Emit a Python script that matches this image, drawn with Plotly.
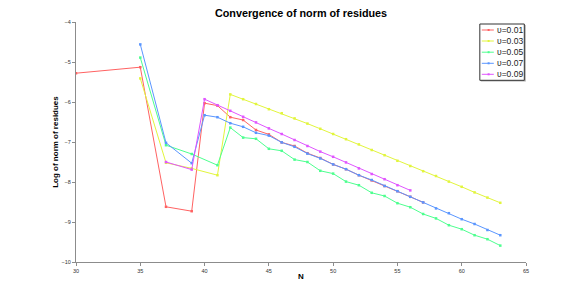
import plotly.graph_objects as go

labels = ["υ=0.01", "υ=0.03", "υ=0.05", "υ=0.07", "υ=0.09"]
colors = ["#ff6262", "#e2f53c", "#4dff8f", "#5a96ff", "#e055ff"]

n_001 = [30, 35, 37, 39, 40, 41, 42, 43, 44, 45, 46, 47, 48, 49, 50, 51, 52, 53, 54, 55, 56, 57]
v_001 = [-5.28, -5.13, -8.62, -8.73, -6.03, -6.09, -6.38, -6.45, -6.70, -6.81, -7.01, -7.10,
         -7.28, -7.40, -7.56, -7.68, -7.83, -7.96, -8.10, -8.23, -8.37, -8.51]

n_003 = [35, 37, 39, 41, 42, 43, 44, 45, 46, 47, 48, 49, 50, 51, 52, 53, 54, 55, 56, 57, 58,
         59, 60, 61, 62, 63]
v_003 = [-5.41, -7.52, -7.66, -7.83, -5.81, -5.93, -6.05, -6.18, -6.28, -6.41, -6.54, -6.67,
         -6.80, -6.93, -7.06, -7.20, -7.33, -7.47, -7.60, -7.73, -7.85, -7.99, -8.12, -8.26,
         -8.39, -8.52]

n_005 = [35, 37, 39, 41, 42, 43, 44, 45, 46, 47, 48, 49, 50, 51, 52, 53, 54, 55, 56, 57, 58,
         59, 60, 61, 62, 63]
v_005 = [-4.89, -7.08, -7.30, -7.58, -6.64, -6.89, -6.92, -7.17, -7.22, -7.44, -7.50, -7.72,
         -7.79, -7.99, -8.08, -8.27, -8.35, -8.53, -8.63, -8.80, -8.91, -9.08, -9.18, -9.33,
         -9.43, -9.59]

n_007 = [35, 37, 39, 40, 41, 42, 43, 44, 45, 46, 47, 48, 49, 50, 51, 52, 53, 54, 55, 56, 57,
         58, 59, 60, 61, 62, 63]
v_007 = [-4.56, -7.02, -7.53, -6.33, -6.38, -6.53, -6.62, -6.77, -6.84, -7.01, -7.12, -7.29,
         -7.41, -7.56, -7.68, -7.83, -7.95, -8.10, -8.23, -8.37, -8.51, -8.66, -8.78, -8.93,
         -9.05, -9.20, -9.33]

n_009 = [37, 39, 40, 41, 42, 43, 44, 45, 46, 47, 48, 49, 50, 51, 52, 53, 54, 55, 56]
v_009 = [-7.50, -7.69, -5.93, -6.08, -6.22, -6.37, -6.51, -6.66, -6.80, -6.95, -7.10, -7.24,
         -7.37, -7.51, -7.66, -7.80, -7.93, -8.08, -8.21]

series_n = [n_001, n_003, n_005, n_007, n_009]
series_v = [v_001, v_003, v_005, v_007, v_009]

x_ticks = [30, 35, 40, 45, 50, 55, 60, 65]
y_ticks = [-10, -9, -8, -7, -6, -5, -4]

FONT = "Liberation Sans, Arial, sans-serif"
W, H = 581, 294
OFF = 8  # page body margin offset between figure and screenshot
# plot area in screenshot pixels
SX0, SX1, SY0, SY1 = 75.5, 525.7, 22.0, 262.0
ML = SX0 - OFF
MR = W - (SX1 - OFF)
MT = SY0 - OFF
MB = H - (SY1 - OFF)
PW, PH = SX1 - SX0, SY1 - SY0


def px_x(sx):
    return (sx - SX0) / PW


def px_y(sy):
    return (SY1 - sy) / PH


fig = go.Figure()
for lab, col, xs, ys in zip(labels, colors, series_n, series_v):
    fig.add_trace(go.Scatter(
        x=xs, y=ys, name=lab, mode="lines+markers",
        line=dict(color=col, width=1),
        marker=dict(color=col, size=2.5, symbol="square"),
        showlegend=False,
    ))

axis_common = dict(
    showgrid=False, zeroline=False, showline=True, linecolor="#8c8c8c", linewidth=1,
    ticks="outside", ticklen=3, tickcolor="#8c8c8c", tickwidth=1,
    tickfont=dict(family=FONT, size=5.5, color="#333"),
    mirror=False, automargin=False,
)

# compact legend drawn inside the axes area, like the original
shapes = [
    dict(type="rect", xref="paper", yref="paper",
         x0=px_x(480.5), x1=px_x(525.5), y0=px_y(81.5), y1=px_y(25),
         fillcolor="#b0b0b0", line=dict(width=0), layer="above"),
    dict(type="rect", xref="paper", yref="paper",
         x0=px_x(479.5), x1=px_x(524), y0=px_y(80.3), y1=px_y(24),
         fillcolor="white", line=dict(color="#333", width=1), layer="above"),
]
annotations = []
row_y = [30, 41, 52.2, 63.3, 74.3]
for lab, col, ry in zip(labels, colors, row_y):
    shapes.append(dict(type="line", xref="paper", yref="paper",
                       x0=px_x(481.5), x1=px_x(493.5), y0=px_y(ry), y1=px_y(ry),
                       line=dict(color=col, width=1), layer="above"))
    shapes.append(dict(type="rect", xref="paper", yref="paper",
                       x0=px_x(487.3), x1=px_x(489.3), y0=px_y(ry + 1), y1=px_y(ry - 1),
                       fillcolor=col, line=dict(width=0), layer="above"))
    annotations.append(dict(text=lab, xref="paper", yref="paper", x=px_x(494.5), y=px_y(ry),
                            xanchor="left", yanchor="middle", showarrow=False,
                            font=dict(family=FONT, size=8.5, color="#222")))

fig.update_layout(
    width=W, height=H,
    margin=dict(l=ML, r=MR, t=MT, b=MB, pad=0),
    paper_bgcolor="white", plot_bgcolor="white",
    title=dict(text="<b>Convergence of norm of residues</b>", xref="paper", x=0.5, xanchor="center",
               yref="container", y=1 - (13 - OFF) / H, yanchor="middle",
               font=dict(family=FONT, size=10.8, color="black")),
    xaxis=dict(range=[30, 65], tickvals=x_ticks,
               title=dict(text="<b>N</b>", standoff=0,
                          font=dict(family=FONT, size=8, color="black")),
               **axis_common),
    yaxis=dict(range=[-10, -4], tickvals=y_ticks,
               title=dict(text="<b>Log of norm of residues</b>", standoff=1,
                          font=dict(family=FONT, size=8, color="black")),
               **axis_common),
    shapes=shapes,
    annotations=annotations,
    showlegend=False,
)

fig.write_html("out.html")
